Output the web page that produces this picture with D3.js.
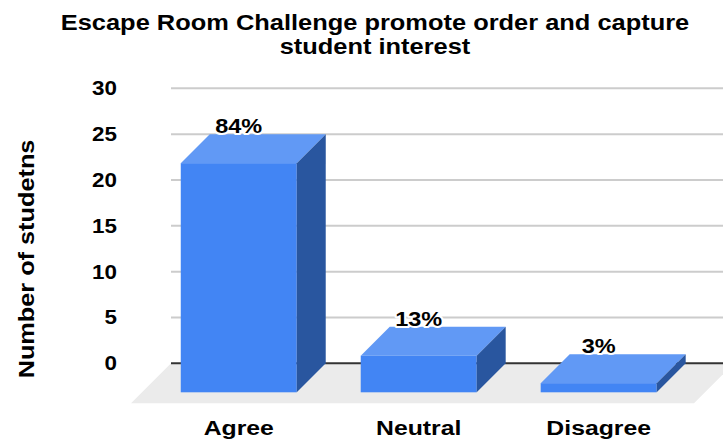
<!DOCTYPE html>
<html>
<head>
<meta charset="utf-8">
<script src="https://cdn.jsdelivr.net/npm/d3@7"></script>
<style>
  body { margin: 0; background: #fff; }
  text { font-family: "Liberation Sans", Arial, sans-serif; font-weight: bold; fill: #000; }
</style>
</head>
<body>
<div id="chart"></div>
<script>
// survey responses
var categories = ["Agree", "Neutral", "Disagree"];
var students = [25, 4, 1];
var pctLabels = ["84%", "13%", "3%"];
var yTicks = [0, 5, 10, 15, 20, 25, 30];

var W = 723, H = 441;
var depth = 29, floorDepth = 40;

var svg = d3.select("#chart").append("svg")
    .attr("width", W)
    .attr("height", H);

// scales live on the back wall, fronts are shifted by depth
var x = d3.scaleBand()
    .domain(categories)
    .range([171, 734])
    .paddingInner(0.3556)
    .paddingOuter(0.242)
    .align(0.445);

var y = d3.scaleLinear()
    .domain([0, 30])
    .range([363.3, 88.3]);

var y0 = y(0);

// text is drawn slightly wide
function wideText(sel, tx, ty, sx) {
  return sel.attr("transform", "translate(" + tx + "," + ty + ") scale(" + sx + ",1)");
}

// title
var title = svg.append("text").attr("text-anchor", "middle").style("font-size", "22.5px");
wideText(title, 375, 30, 1.13);
title.append("tspan").attr("x", 0).attr("y", 0).text("Escape Room Challenge promote order and capture");
title.append("tspan").attr("x", 0).attr("y", 24).text("student interest");

// floor
svg.append("polygon")
    .attr("points", [[171, y0], [734, y0], [734 - floorDepth, y0 + floorDepth], [171 - floorDepth, y0 + floorDepth]].join(" "))
    .attr("fill", "#ebebeb");

// gridlines
svg.selectAll(".grid")
    .data(yTicks)
  .enter().append("line")
    .attr("class", "grid")
    .attr("x1", 171)
    .attr("x2", W)
    .attr("y1", function(d) { return y(d); })
    .attr("y2", function(d) { return y(d); })
    .style("stroke", function(d) { return d === 0 ? "#333" : "#ccc"; })
    .style("stroke-width", 2);

// y tick labels
svg.selectAll(".ytick")
    .data(yTicks)
  .enter().append("text")
    .attr("class", "ytick")
    .attr("text-anchor", "end")
    .attr("dy", "0.35em")
    .style("font-size", "20px")
    .each(function(d) { wideText(d3.select(this), 117, y(d), 1.12); })
    .text(function(d) { return d; });

// y axis title
svg.append("text")
    .attr("text-anchor", "middle")
    .style("font-size", "22px")
    .attr("transform", "translate(34,259) rotate(-90) scale(1.15,1)")
    .text("Number of studetns");

// bars
var bw = x.bandwidth();
var bars = svg.selectAll(".bar")
    .data(students)
  .enter().append("g")
    .attr("class", "bar");

bars.append("rect")
    .attr("x", function(d, i) { return x(categories[i]) - depth; })
    .attr("y", function(d) { return y(d) + depth; })
    .attr("width", bw)
    .attr("height", function(d) { return y0 - y(d); })
    .attr("fill", "#4285f4");

bars.append("polygon")
    .attr("points", function(d, i) {
      var xb = x(categories[i]), yt = y(d);
      return [[xb - depth, yt + depth], [xb, yt], [xb + bw, yt], [xb + bw - depth, yt + depth]].join(" ");
    })
    .attr("fill", "#6199f5");

bars.append("polygon")
    .attr("points", function(d, i) {
      var xr = x(categories[i]) + bw, yt = y(d);
      return [[xr - depth, yt + depth], [xr, yt], [xr, y0], [xr - depth, y0 + depth]].join(" ");
    })
    .attr("fill", "#29569f");

// percentage labels with white halo
bars.append("text")
    .attr("text-anchor", "middle")
    .style("font-size", "21px")
    .style("stroke", "#fff")
    .style("stroke-width", 4)
    .style("paint-order", "stroke")
    .style("stroke-linejoin", "round")
    .each(function(d, i) {
      wideText(d3.select(this), x(categories[i]) - depth + bw / 2, y(d) - 1, 1.12);
    })
    .text(function(d, i) { return pctLabels[i]; });

// category labels
svg.selectAll(".xlab")
    .data(categories)
  .enter().append("text")
    .attr("class", "xlab")
    .attr("text-anchor", "middle")
    .style("font-size", "21px")
    .each(function(d) { wideText(d3.select(this), x(d) - depth + bw / 2, 435, 1.18); })
    .text(function(d) { return d; });
</script>
</body>
</html>
